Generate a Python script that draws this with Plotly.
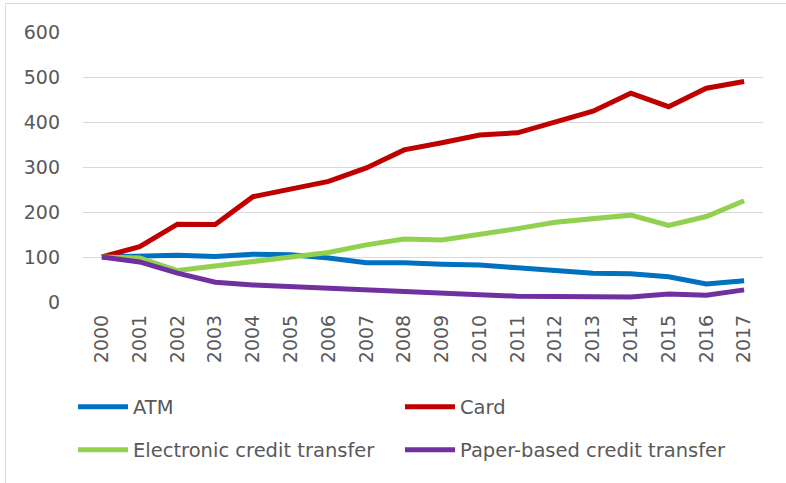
import plotly.graph_objects as go

years = [str(y) for y in range(2000, 2018)]
atm = [100, 103, 104, 101, 106, 105, 98, 87, 87, 84, 82, 76, 70, 64, 63, 56, 40, 47]
card = [100, 123, 173, 172, 234, 252, 268, 298, 338, 354, 371, 376, 401, 424, 464, 434, 475, 490]
electronic = [100, 98, 70, 80, 90, 101, 110, 127, 140, 138, 150, 163, 177, 185, 193, 170, 190, 225]
paper = [100, 89, 64, 44, 38, 34, 30, 27, 23, 19, 16, 13, 12, 12, 11, 18, 15, 27]

series = [
    ("ATM", atm, "#0070C0", "legend"),
    ("Card", card, "#C00000", "legend"),
    ("Electronic credit transfer", electronic, "#92D050", "legend2"),
    ("Paper-based credit transfer", paper, "#7030A0", "legend2"),
]

FONT = "DejaVu Sans"
fig = go.Figure()
for name, vals, col, lg in series:
    fig.add_trace(go.Scatter(
        x=years, y=vals, name=name, mode="lines",
        line=dict(color=col, width=5),
        legend=lg,
    ))

W, H = 786, 483
L, R, T, B = 83, 763, 32, 302

def px(x):
    return (x - L) / (R - L)

def py(y):
    return (B - y) / (B - T)

legend_common = dict(
    orientation="h", xanchor="left", yanchor="middle",
    entrywidth=262, entrywidthmode="pixels",
    font=dict(family=FONT, size=19.5, color="#595959"),
    bgcolor="rgba(0,0,0,0)", itemwidth=50, traceorder="normal",
)

fig.update_layout(
    width=W, height=H,
    margin=dict(l=L, r=W - R, t=T, b=H - B, pad=0),
    paper_bgcolor="white", plot_bgcolor="white",
    font=dict(family=FONT, size=19, color="#595959"),
    xaxis=dict(
        type="category", range=[-0.5, 17.5], tickangle=-90,
        showgrid=False, showline=False, zeroline=False, ticks="",
        ticklabelstandoff=8,
        tickfont=dict(family=FONT, size=19, color="#595959"),
    ),
    yaxis=dict(
        range=[0, 600], dtick=100, tick0=0,
        showgrid=True, gridcolor="#D9D9D9", gridwidth=1.3,
        zeroline=False, showline=False, ticks="",
        ticklabelstandoff=22,
        tickfont=dict(family=FONT, size=19, color="#595959"),
    ),
    legend=dict(x=px(73), y=py(407), **legend_common),
    legend2=dict(x=px(73), y=py(450), **legend_common),
    showlegend=True,
    shapes=[dict(
        type="rect", xref="paper", yref="paper",
        x0=px(5.5), x1=px(800), y0=py(3.5), y1=py(500),
        line=dict(color="#D9D9D9", width=1), layer="below",
    )],
)

fig.write_html(
    "out.html",
    config={"displayModeBar": False},
    post_script="document.body.style.margin='0';document.body.style.overflow='hidden';",
)
